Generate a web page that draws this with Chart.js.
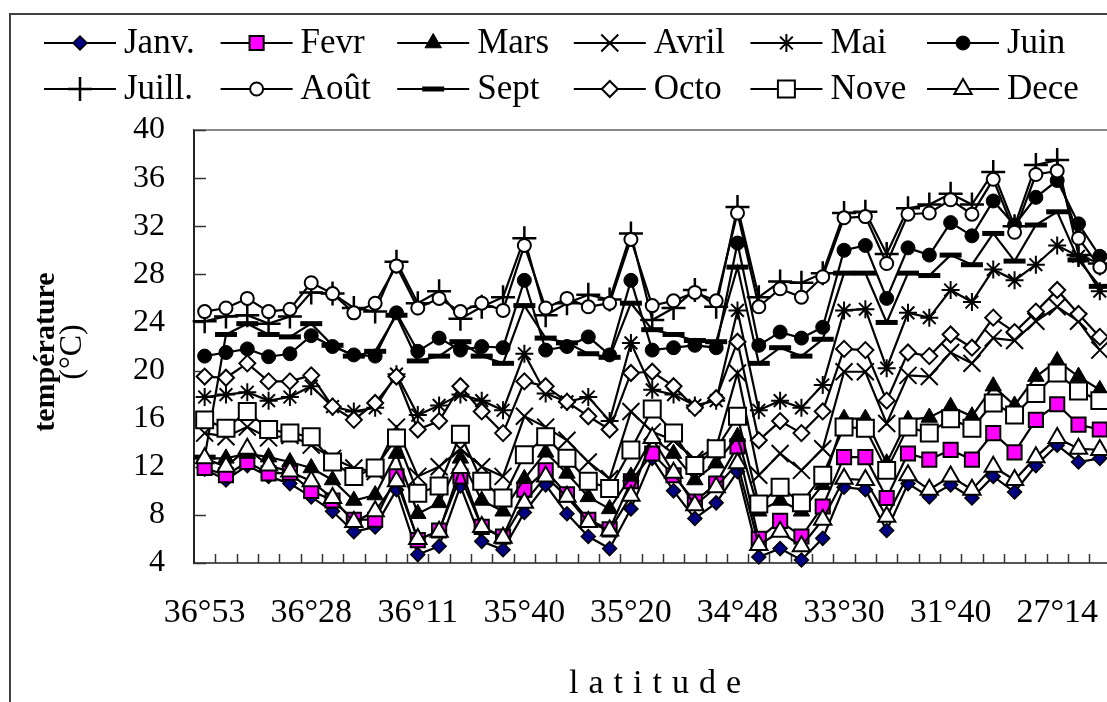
<!DOCTYPE html>
<html><head><meta charset="utf-8">
<script src="https://cdn.jsdelivr.net/npm/chart.js@4.4.1/dist/chart.umd.min.js"></script>
<style>
html,body{margin:0;padding:0;background:#fff;overflow:hidden;width:1107px;height:702px;}
#wrap{position:absolute;left:0;top:0;width:1130px;height:702px;}
</style></head><body>
<div id="wrap"><canvas id="c" width="1130" height="702"></canvas></div>
<script>
// ---- data ----
const tickLabels = ['36°53','36°28','36°11','35°40','35°20','34°48','33°30','31°40','27°14'];
const labelEvery = 5;
const pointCount = 43;
const yTickValues = [4,8,12,16,20,24,28,32,36,40];

const seriesNames = ['Janv.','Fevr','Mars','Avril','Mai','Juin','Juill.','Août','Sept','Octo','Nove','Dece'];

const janv = [11.8,10.9,12.1,11.2,10.6,9.5,8.3,6.6,7.0,10.1,4.7,5.4,10.4,5.8,5.1,8.2,10.5,8.1,6.2,5.2,8.5,12.7,10.0,7.7,9.0,11.6,4.5,5.2,4.25,6.05,10.3,10.1,6.7,10.6,9.5,10.5,9.4,11.2,9.9,12.1,13.8,12.4,12.7];
const fevr = [11.9,11.3,12.4,11.45,11.5,10.0,9.2,7.6,7.6,11.2,5.9,6.7,11.2,7.0,6.2,10.1,11.7,9.7,7.6,6.8,10.8,13.1,11.3,9.1,10.6,13.7,6.0,7.5,6.2,8.7,12.8,12.8,9.4,13.1,12.6,13.4,12.6,14.8,13.2,15.9,17.2,15.5,15.1];
const mars = [12.7,12.7,13.1,12.8,12.4,11.9,10.9,9.2,9.65,13.1,8.1,9.0,12.7,9.2,8.3,11.0,13.2,11.45,9.5,8.5,11.2,14.4,13.1,10.9,12.3,14.5,8.3,9.2,8.3,10.5,16.0,16.0,12.3,15.9,16.1,17.0,16.2,18.7,17.1,19.5,20.8,19.5,18.4];
const avril = [14.8,14.5,15.3,14.4,14.6,13.8,12.7,11.9,11.6,15.3,11.2,12.0,13.5,12.0,11.2,16.2,15.3,14.2,12.4,11.0,16.6,14.9,14.2,12.6,13.6,19.8,11.3,13.1,11.7,13.5,19.9,19.9,15.6,19.6,19.5,21.5,20.6,22.7,22.5,24.1,25.3,24.1,21.7];
const mai = [17.8,18.0,18.2,17.5,17.8,18.7,17.0,16.6,16.9,19.7,16.3,17.1,18.0,17.5,16.7,21.4,18.1,17.4,17.8,15.8,22.3,18.4,18.0,17.1,17.5,25.0,16.7,17.5,16.9,18.8,25.0,25.1,20.2,24.8,24.4,26.7,25.7,28.4,27.5,28.8,30.4,29.5,26.6];
const juin = [21.2,21.5,21.8,21.15,21.4,22.9,22.0,21.3,21.2,24.8,21.6,22.7,21.7,22.0,21.9,27.5,21.7,22.0,22.8,21.3,27.5,21.7,21.9,22.1,21.9,30.6,22.1,23.2,22.7,23.6,30.0,30.4,26.0,30.2,29.6,32.3,31.2,34.1,32.1,34.4,35.8,32.2,29.5];
const juill = [24.1,24.5,24.6,23.9,24.5,26.5,26.4,25.2,24.9,29.05,25.6,26.6,24.3,25.3,26.1,31.0,24.6,25.6,26.3,25.9,31.4,24.2,25.2,26.7,25.3,33.6,26.1,27.4,27.3,28.1,33.1,33.2,29.7,33.5,33.8,34.7,33.8,36.5,32.0,37.1,37.5,29.6,28.9];
const aout = [24.9,25.2,26.0,24.9,25.1,27.3,26.4,24.8,25.6,28.7,25.2,26.0,24.9,25.6,25.0,30.4,25.2,26.0,25.3,25.6,30.9,25.4,25.8,26.5,25.8,33.1,25.3,26.8,26.1,27.8,32.7,32.8,28.9,33.0,33.1,34.2,33.0,35.9,31.5,36.3,36.6,31.0,28.6];
const sept = [12.8,23.0,23.9,23.0,22.8,23.9,22.1,21.2,21.6,24.6,20.8,21.2,22.4,21.2,20.6,25.4,22.7,22.3,21.4,21.1,25.6,23.4,23.0,22.5,22.4,28.6,20.6,21.9,21.2,22.6,28.1,28.1,24.0,28.1,27.9,29.6,28.8,31.4,29.1,32.1,33.2,29.2,27.0];
const octo = [19.5,19.4,20.6,19.1,19.1,19.6,17.0,15.9,17.3,19.5,15.1,15.8,18.7,16.6,14.8,19.1,18.7,17.4,16.2,15.1,19.8,19.9,18.7,16.9,17.7,22.4,14.2,15.8,14.8,16.6,21.8,21.7,17.5,21.5,21.2,23.0,21.9,24.4,23.2,24.9,26.7,24.7,22.8];
const nove = [15.9,15.2,16.6,15.1,14.8,14.5,12.4,11.2,11.9,14.4,9.8,10.4,14.7,10.8,9.4,13.0,14.5,12.7,10.8,10.2,13.4,16.8,14.8,12.1,13.5,16.2,8.9,10.3,9.0,11.3,15.3,15.2,11.7,15.3,14.8,16.0,15.2,17.3,16.3,18.1,19.8,18.3,17.5];
const dece = [12.7,12.0,13.5,12.1,11.6,10.8,9.4,7.4,8.3,10.8,6.0,6.6,11.9,7.0,6.1,9.0,11.2,9.5,7.4,6.7,9.6,14.4,11.5,8.8,10.3,12.3,5.5,6.6,5.4,7.6,11.0,10.9,7.85,11.3,10.1,11.2,10.1,12.0,10.9,12.8,14.4,13.5,13.4];

const seriesValues = [janv,fevr,mars,avril,mai,juin,juill,aout,sept,octo,nove,dece];

// ---- styles ----
const markerStyles = [
  {pointStyle:'rectRot', radius:7, bg:'#000080', bw:1.5},
  {pointStyle:'rect', radius:10, bg:'#ff00ff', bw:2},
  {pointStyle:'triangle', radius:9.5, bg:'#000000', bw:1},
  {pointStyle:'crossRot', radius:12, bg:'#000000', bw:2},
  {pointStyle:'star', radius:9, bg:'#000000', bw:2},
  {pointStyle:'circle', radius:7, bg:'#000000', bw:1},
  {pointStyle:'cross', radius:12, bg:'#000000', bw:2.5},
  {pointStyle:'circle', radius:6.5, bg:'#ffffff', bw:2},
  {pointStyle:'line', radius:11, bg:'#000000', bw:5},
  {pointStyle:'rectRot', radius:8, bg:'#ffffff', bw:2},
  {pointStyle:'rect', radius:12, bg:'#ffffff', bw:2},
  {pointStyle:'triangle', radius:10, bg:'#ffffff', bw:2}
];

const FONT = '"Liberation Serif","Times New Roman",serif';
const categories = Array.from({length: pointCount}, (_, i) =>
  (i % labelEvery === 0 && tickLabels[i / labelEvery] !== undefined) ? tickLabels[i / labelEvery] : '');

const datasets = seriesNames.map((name, k) => ({
  label: name,
  data: seriesValues[k],
  borderColor: '#000',
  borderWidth: 2.2,
  tension: 0,
  fill: false,
  pointStyle: markerStyles[k].pointStyle,
  pointRadius: markerStyles[k].radius,
  pointBackgroundColor: markerStyles[k].bg,
  pointBorderColor: '#000',
  pointBorderWidth: markerStyles[k].bw,
  order: seriesNames.length - k,
  clip: false
}));

const decor = {
  id: 'decor',
  beforeDatasetsDraw(chart) {
    const ctx = chart.ctx, a = chart.chartArea, xs = chart.scales.x, ys = chart.scales.y;
    ctx.save();
    ctx.strokeStyle = '#8a8a8a'; ctx.lineWidth = 2;
    ctx.beginPath(); ctx.moveTo(a.left, a.top); ctx.lineTo(chart.width, a.top); ctx.stroke();
    ctx.strokeStyle = '#333'; ctx.lineWidth = 1.5;
    const step = xs.getPixelForValue(1) - xs.getPixelForValue(0);
    for (let i = 1; i <= pointCount; i++) {
      const px = Math.round(xs.getPixelForValue(i) - step / 2) + 0.5;
      ctx.beginPath(); ctx.moveTo(px, a.bottom); ctx.lineTo(px, a.bottom - 9); ctx.stroke();
    }
    for (const v of yTickValues) {
      const py = Math.round(ys.getPixelForValue(v)) + 0.5;
      ctx.beginPath(); ctx.moveTo(a.left, py); ctx.lineTo(a.left + 12, py); ctx.stroke();
    }
    ctx.restore();
  },
  afterDraw(chart) {
    const ctx = chart.ctx;
    ctx.save();
    ctx.strokeStyle = '#404040'; ctx.lineWidth = 2;
    ctx.beginPath(); ctx.moveTo(10, 720); ctx.lineTo(10, 14); ctx.lineTo(1200, 14); ctx.stroke();
    ctx.font = '35px ' + FONT;
    ctx.textBaseline = 'middle';
    ctx.fillStyle = '#000';
    chart.data.datasets.forEach((d, k) => {
      const row = Math.floor(k / 6), col = k % 6;
      const x0 = 44 + col * 176.6, y0 = 43 + row * 46;
      ctx.strokeStyle = '#000'; ctx.lineWidth = 2.2;
      ctx.beginPath(); ctx.moveTo(x0, y0); ctx.lineTo(x0 + 72, y0); ctx.stroke();
      const m = markerStyles[k];
      ctx.fillStyle = m.bg; ctx.strokeStyle = '#000'; ctx.lineWidth = m.bw;
      Chart.helpers.drawPoint(ctx, {pointStyle: m.pointStyle, radius: m.radius, borderWidth: m.bw, rotation: 0}, x0 + 36, y0);
      ctx.fillStyle = '#000';
      ctx.textAlign = 'left';
      ctx.fillText(d.label, x0 + 80, y0 + 1);
    });
    // y title (two lines)
    ctx.save();
    ctx.translate(46, 352); ctx.rotate(-Math.PI / 2);
    ctx.textAlign = 'center'; ctx.textBaseline = 'middle';
    ctx.font = 'bold 30px ' + FONT;
    ctx.fillText('température', 0, 0);
    ctx.restore();
    ctx.save();
    ctx.translate(73, 352); ctx.rotate(-Math.PI / 2);
    ctx.textAlign = 'center'; ctx.textBaseline = 'middle';
    ctx.font = '32px ' + FONT;
    ctx.fillText('(°C)', 0, 0);
    ctx.restore();
    // x title
    ctx.font = '34px ' + FONT;
    ctx.textAlign = 'center'; ctx.textBaseline = 'middle';
    ctx.letterSpacing = '10px';
    ctx.fillText('latitude', 660, 684);
    ctx.letterSpacing = '0px';
    ctx.restore();
  }
};

new Chart(document.getElementById('c'), {
  type: 'line',
  data: { labels: categories, datasets },
  plugins: [decor],
  options: {
    responsive: false,
    animation: false,
    devicePixelRatio: 1,
    layout: { padding: { top: 130, right: 10, left: 0, bottom: 0 } },
    plugins: { legend: { display: false }, tooltip: { enabled: false }, title: { display: false } },
    scales: {
      x: {
        type: 'category',
        offset: true,
        grid: { display: false, drawTicks: false },
        border: { display: true, color: '#555', width: 2 },
        ticks: { autoSkip: false, maxRotation: 0, minRotation: 0, padding: 30, color: '#000', font: { family: FONT, size: 34 } },
        afterFit(s) { s.height = 139; }
      },
      y: {
        min: 4, max: 40,
        grid: { display: false, drawTicks: false },
        border: { display: true, color: '#222', width: 2 },
        ticks: { stepSize: 4, padding: 29, color: '#000', font: { family: FONT, size: 32 } },
        afterFit(s) { s.width = 194; }
      }
    }
  }
});
</script>
</body></html>
